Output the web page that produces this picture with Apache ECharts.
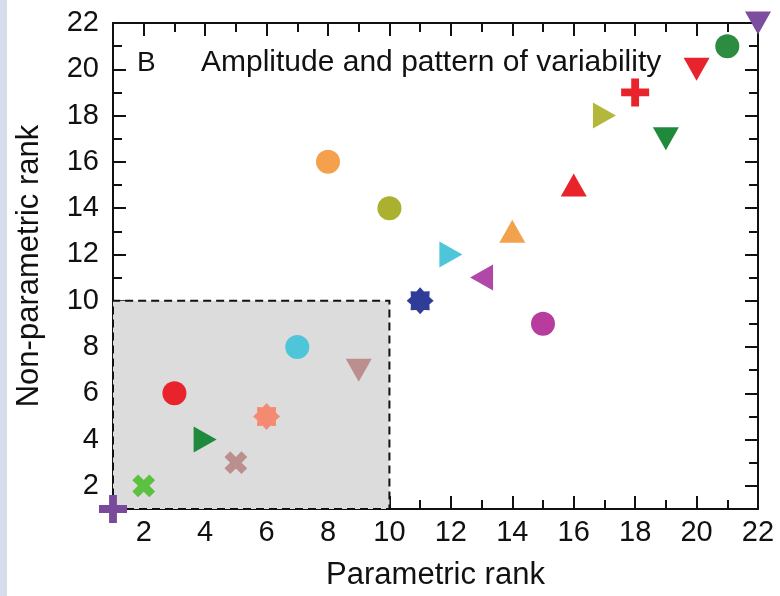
<!DOCTYPE html>
<html>
<head>
<meta charset="utf-8">
<script src="https://cdn.jsdelivr.net/npm/echarts@6/dist/echarts.min.js"></script>
<style>html,body{margin:0;padding:0;background:#fff}#c{width:780px;height:596px}</style>
</head>
<body>
<div id="c"></div>
<script>
// ---- data ----
const parametricRank    = [1, 2, 3, 4, 5, 6, 7, 8, 9, 10, 11, 12, 13, 14, 15, 16, 17, 18, 19, 20, 21, 22];
const nonParametricRank = [1, 2, 6, 4, 3, 5, 8, 16, 7, 14, 10, 12, 11, 13, 9, 15, 18, 19, 17, 20, 21, 22];
const majorTicks = [2, 4, 6, 8, 10, 12, 14, 16, 18, 20, 22];
const shadedBox = [[1, 1], [10, 10]];

// ---- styles ----
const markerShapes = ['plus','x','circle','right','x','star','circle','circle','down','circle','star',
                      'right','left','up','circle','up','right','plus','down','down','circle','down'];
const markerColors = ['#7a4a9a','#5cc040','#e8232b','#1f8a3e','#bc8f8f','#f58a72','#4fc5d9','#f5a04c',
                      '#bc8f8f','#a9b12e','#2f3d99','#4fc5d9','#b048a8','#f2a24c','#b73c9e','#e8232b',
                      '#b3b83c','#e8232b','#208a3c','#e8232b','#2c8c40','#7b4f9e'];

const plusPath = 'path://M-1.4,-5H1.4V-1.4H5V1.4H1.4V5H-1.4V1.4H-5V-1.4H-1.4Z';
const xPath = 'path://M-1.7,-5H1.7V-1.7H5V1.7H1.7V5H-1.7V1.7H-5V-1.7H-1.7Z';
function starPath() {
  let s = 'path://';
  for (let i = 0; i < 16; i++) {
    const a = i * Math.PI / 8;
    const r = i % 2 === 0 ? 5 : 3.7;
    s += (i === 0 ? 'M' : 'L') + (r * Math.sin(a)).toFixed(3) + ',' + (-r * Math.cos(a)).toFixed(3);
  }
  return s + 'Z';
}
const shapeDefs = {
  circle: {symbol: 'circle', size: 24, rot: 0},
  up:     {symbol: 'triangle', size: [26, 23], rot: 0},
  down:   {symbol: 'triangle', size: [26, 23], rot: 180},
  right:  {symbol: 'triangle', size: [26, 23], rot: -90},
  left:   {symbol: 'triangle', size: [26, 23], rot: 90},
  plus:   {symbol: plusPath, size: 28, rot: 0},
  x:      {symbol: xPath, size: 24, rot: 45},
  star:   {symbol: starPath(), size: 27, rot: 0}
};

const points = parametricRank.map((x, i) => {
  const d = shapeDefs[markerShapes[i]];
  return {
    value: [x, nonParametricRank[i]],
    symbol: d.symbol, symbolSize: d.size, symbolRotate: d.rot,
    itemStyle: {color: markerColors[i], opacity: 1}
  };
});

const font = 'Liberation Sans, Arial, Helvetica, sans-serif';
const txt = '#111';
const allTicks = parametricRank;
const FS = 29;
const NFS = 31;

function xAx(pos, major, showLine, showLabel, name) {
  return {
    type: 'value', position: pos, min: 1, max: 22, interval: 1,
    name: name || '', nameLocation: 'middle', nameGap: 51,
    nameTextStyle: {fontFamily: font, fontSize: NFS, color: txt},
    axisLine: {show: showLine, onZero: false, lineStyle: {color: '#111', width: 2}},
    axisTick: {show: true, inside: true, length: major ? 13 : 9, customValues: major ? majorTicks : allTicks,
               lineStyle: {color: '#111', width: 2}},
    axisLabel: {show: showLabel, customValues: majorTicks, fontFamily: font, fontSize: FS, color: txt, margin: 9},
    splitLine: {show: false}
  };
}
function yAx(pos, major, showLine, showLabel, name) {
  return {
    type: 'value', position: pos, min: 1, max: 22, interval: 1,
    name: name || '', nameLocation: 'middle', nameGap: 68,
    nameTextStyle: {fontFamily: font, fontSize: NFS, color: txt},
    axisLine: {show: showLine, onZero: false, lineStyle: {color: '#111', width: 2}},
    axisTick: {show: true, inside: true, length: major ? 13 : 9, customValues: major ? majorTicks : allTicks,
               lineStyle: {color: '#111', width: 2}},
    axisLabel: {show: showLabel, customValues: majorTicks, fontFamily: font, fontSize: FS, color: txt, margin: 14},
    splitLine: {show: false}
  };
}

const chart = echarts.init(document.getElementById('c'), null, {renderer: 'canvas'});
chart.setOption({
  animation: false,
  backgroundColor: '#fff',
  grid: {left: 113, right: 22, top: 23, bottom: 85, containLabel: false},
  xAxis: [
    xAx('bottom', false, true, true, 'Parametric rank'),
    xAx('bottom', true, false, false),
    xAx('top', false, true, false),
    xAx('top', true, false, false)
  ],
  yAxis: [
    yAx('left', false, true, true, 'Non-parametric rank'),
    yAx('left', true, false, false),
    yAx('right', false, true, false),
    yAx('right', true, false, false)
  ],
  graphic: [
    {type: 'rect', left: 0, top: 0, shape: {width: 7, height: 596}, style: {fill: '#d6ddef'}, z: -10},
    {type: 'text', x: 137, y: 63, style: {text: 'B', font: '28px ' + font, fill: txt, verticalAlign: 'middle'}},
    {type: 'text', x: 201, y: 63, style: {text: 'Amplitude and pattern of variability', font: '30px ' + font, fill: txt, verticalAlign: 'middle'}}
  ],
  series: [{
    type: 'scatter',
    xAxisIndex: 0, yAxisIndex: 0,
    data: points,
    z: 5,
    markArea: {
      silent: true,
      itemStyle: {color: '#dcdcdc', borderColor: '#111', borderWidth: 2, borderType: [8, 5]},
      data: [[{coord: shadedBox[0]}, {coord: shadedBox[1]}]]
    }
  }]
});
</script>
</body>
</html>
